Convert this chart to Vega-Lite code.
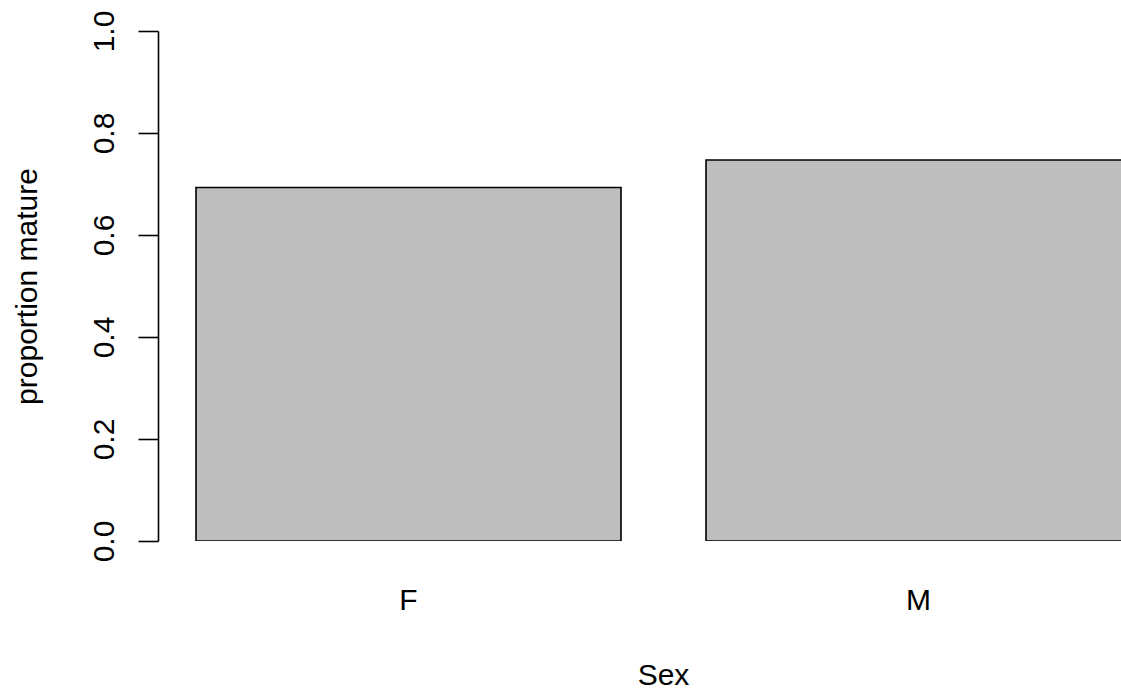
{
  "$schema": "https://vega.github.io/schema/vega-lite/v6.json",
  "autosize": "none",
  "padding": {"left": 158, "top": 31, "right": 0, "bottom": 150},
  "width": 963,
  "height": 510,
  "background": "white",
  "config": {
    "view": {"stroke": null},
    "font": "Liberation Sans",
    "axis": {"grid": false}
  },
  "data": {
    "values": [
      {"Sex": "F", "proportion": 0.693},
      {"Sex": "M", "proportion": 0.747}
    ]
  },
  "mark": {"type": "bar", "fill": "#BEBEBE", "stroke": "black", "strokeWidth": 1.6, "clip": true},
  "encoding": {
    "x": {
      "field": "Sex",
      "type": "nominal",
      "scale": {"range": [0, 1011], "paddingInner": 0.16667, "paddingOuter": 0.0745},
      "axis": {
        "title": "Sex",
        "domain": false,
        "ticks": false,
        "tickSize": 0,
        "labelAngle": 0,
        "labelFontSize": 30,
        "labelColor": "black",
        "labelFont": "Liberation Sans",
        "labelBaseline": "alphabetic",
        "labelPadding": 68,
        "titleFontSize": 30,
        "titleFontWeight": "normal",
        "titleColor": "black",
        "titleFont": "Liberation Sans",
        "titleX": 505,
        "titleY": 143,
        "titleAlign": "center",
        "titleBaseline": "alphabetic"
      }
    },
    "y": {
      "field": "proportion",
      "type": "quantitative",
      "scale": {"domain": [0, 1], "nice": false, "zero": true},
      "axis": {
        "title": "proportion mature",
        "values": [0, 0.2, 0.4, 0.6, 0.8, 1.0],
        "format": ".1f",
        "domainColor": "black",
        "domainWidth": 1.6,
        "tickColor": "black",
        "tickWidth": 1.6,
        "tickSize": 20,
        "labelAngle": -90,
        "labelAlign": "center",
        "labelBaseline": "alphabetic",
        "labelPadding": 25,
        "labelFontSize": 30,
        "labelColor": "black",
        "labelFont": "Liberation Sans",
        "labelOverlap": false,
        "labelFlush": false,
        "titleFontSize": 30,
        "titleFontWeight": "normal",
        "titleColor": "black",
        "titleFont": "Liberation Sans",
        "titleAngle": -90,
        "titleX": -122,
        "titleY": 255,
        "titleAlign": "center",
        "titleBaseline": "alphabetic"
      }
    }
  }
}
